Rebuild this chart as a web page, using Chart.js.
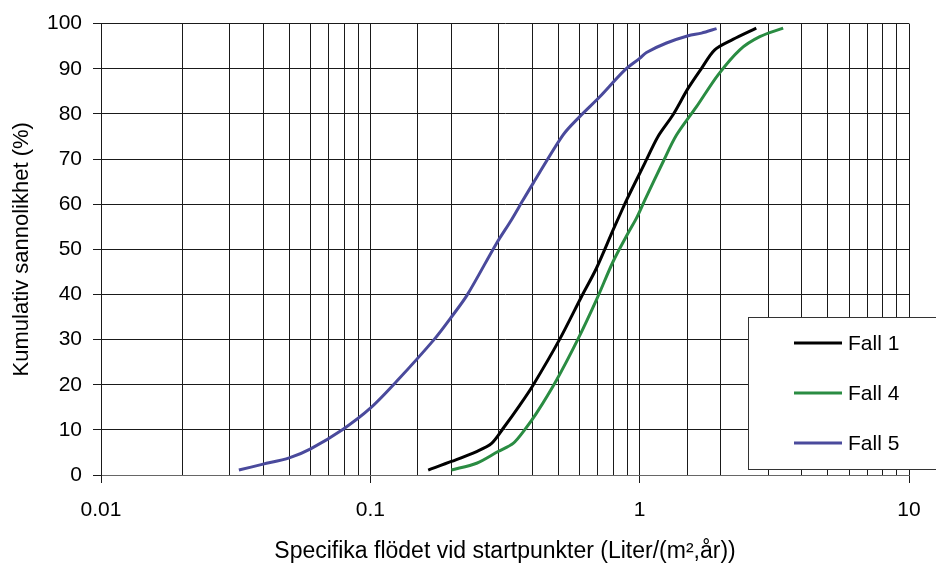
<!DOCTYPE html>
<html>
<head>
<meta charset="utf-8">
<script src="https://cdn.jsdelivr.net/npm/chart.js@4"></script>
<style>
  html, body { margin: 0; padding: 0; background: #fff; }
  #wrap { width: 936px; height: 566px; }
</style>
</head>
<body>
<div id="wrap"><canvas id="lineChart"></canvas></div>
<script>
// values
var fall1X = [0.164, 0.2, 0.248, 0.282, 0.311, 0.359, 0.402, 0.505, 0.608, 0.691, 0.797, 0.844, 0.894, 1.045, 1.17, 1.33, 1.514, 1.697, 1.9, 2.22, 2.71];
var fall1Y = [1.1, 3.0, 5.2, 7.0, 10.3, 15.5, 19.9, 30.1, 39.5, 45.8, 54.3, 57.6, 60.9, 69.1, 75.0, 79.8, 85.7, 90.1, 94.2, 96.5, 99.0];

var fall4X = [0.2, 0.248, 0.298, 0.339, 0.374, 0.414, 0.491, 0.59, 0.691, 0.797, 0.906, 0.973, 1.045, 1.222, 1.37, 1.626, 1.952, 2.354, 2.793, 3.41];
var fall4Y = [1.1, 2.6, 5.2, 7.0, 10.0, 13.7, 21.0, 30.1, 38.8, 47.3, 53.6, 56.9, 60.9, 69.4, 75.3, 81.6, 88.6, 94.2, 97.1, 99.0];

var fall5X = [0.0325, 0.04, 0.05, 0.06, 0.079, 0.1, 0.125, 0.173, 0.2, 0.229, 0.294, 0.334, 0.369, 0.402, 0.519, 0.599, 0.711, 0.88, 1.0, 1.06, 1.258, 1.514, 1.697, 1.93];
var fall5Y = [1.1, 2.4, 3.8, 5.8, 10.1, 14.8, 20.7, 30.1, 35.0, 39.9, 51.3, 56.5, 60.9, 64.6, 75.3, 79.4, 83.8, 89.7, 92.3, 93.6, 95.7, 97.3, 97.9, 98.9];

var xTickLabels = [0.01, 0.1, 1, 10];

function pts(xs, ys) {
  return xs.map(function (x, i) { return { x: x, y: ys[i] }; });
}
function isDecade(v) {
  return xTickLabels.some(function (d) { return Math.abs(v - d) < d * 1e-6; });
}

var FONT = "'Liberation Sans', Arial, Helvetica, sans-serif";

// legend box drawn inside the plot, like the original
var boxLegend = {
  id: 'boxLegend',
  afterDraw: function (chart) {
    var c = chart.ctx;
    var x0 = 748, y0 = 317, w = 200, h = 152;
    c.save();
    c.fillStyle = '#fff';
    c.fillRect(x0, y0, w, h);
    c.strokeStyle = '#333';
    c.lineWidth = 1;
    c.strokeRect(x0 + 0.5, y0 + 0.5, w, h);
    c.font = '21px ' + FONT;
    c.textBaseline = 'middle';
    chart.data.datasets.forEach(function (ds, i) {
      var y = y0 + 26 + i * 50;
      c.strokeStyle = ds.borderColor;
      c.lineWidth = 3;
      c.beginPath();
      c.moveTo(794, y);
      c.lineTo(842, y);
      c.stroke();
      c.fillStyle = '#000';
      c.fillText(ds.label, 848, y + 1);
    });
    c.restore();
  }
};

var ctx = document.getElementById("lineChart");
var lineChart = new Chart(ctx, {
  type: 'line',
  data: {
    datasets: [{
      label: "Fall 1",
      data: pts(fall1X, fall1Y),
      borderColor: "#000000",
      borderWidth: 3,
      pointRadius: 0,
      tension: 0.3,
      fill: false
    }, {
      label: "Fall 4",
      data: pts(fall4X, fall4Y),
      borderColor: "#2a8c42",
      borderWidth: 3,
      pointRadius: 0,
      tension: 0.3,
      fill: false
    }, {
      label: "Fall 5",
      data: pts(fall5X, fall5Y),
      borderColor: "#4a4a9c",
      borderWidth: 3,
      pointRadius: 0,
      tension: 0.3,
      fill: false
    }]
  },
  options: {
    responsive: true,
    maintainAspectRatio: false,
    animation: false,
    layout: { padding: { top: 23, right: 27, left: 0, bottom: 0 } },
    plugins: {
      legend: { display: false },
      tooltip: { enabled: false }
    },
    scales: {
      x: {
        type: 'logarithmic',
        min: 0.01,
        max: 10,
        afterFit: function (s) { s.height = 91; },
        grid: {
          color: '#1a1a1a',
          lineWidth: 1,
          tickLength: 8,
          tickColor: function (c) { return isDecade(c.tick.value) ? '#1a1a1a' : 'rgba(0,0,0,0)'; }
        },
        border: { color: '#666', width: 1 },
        ticks: {
          autoSkip: false,
          maxRotation: 0,
          padding: 15,
          color: '#000',
          font: { family: FONT, size: 21 },
          callback: function (v) { return isDecade(v) ? String(v) : ''; }
        },
        title: {
          display: true,
          text: 'Specifika flödet vid startpunkter (Liter/(m²,år))',
          color: '#000',
          font: { family: FONT, size: 23 },
          padding: { top: 0, bottom: 1 }
        }
      },
      y: {
        min: 0,
        max: 100,
        afterFit: function (s) { s.width = 101; },
        grid: { color: '#1a1a1a', lineWidth: 1, tickLength: 8 },
        border: { color: '#1a1a1a', width: 1 },
        ticks: {
          stepSize: 10,
          padding: 11,
          color: '#000',
          font: { family: FONT, size: 21 }
        },
        title: {
          display: true,
          text: 'Kumulativ sannolikhet (%)',
          color: '#000',
          font: { family: FONT, size: 22 },
          padding: { top: 9, bottom: 0 }
        }
      }
    }
  },
  plugins: [boxLegend]
});
</script>
</body>
</html>
